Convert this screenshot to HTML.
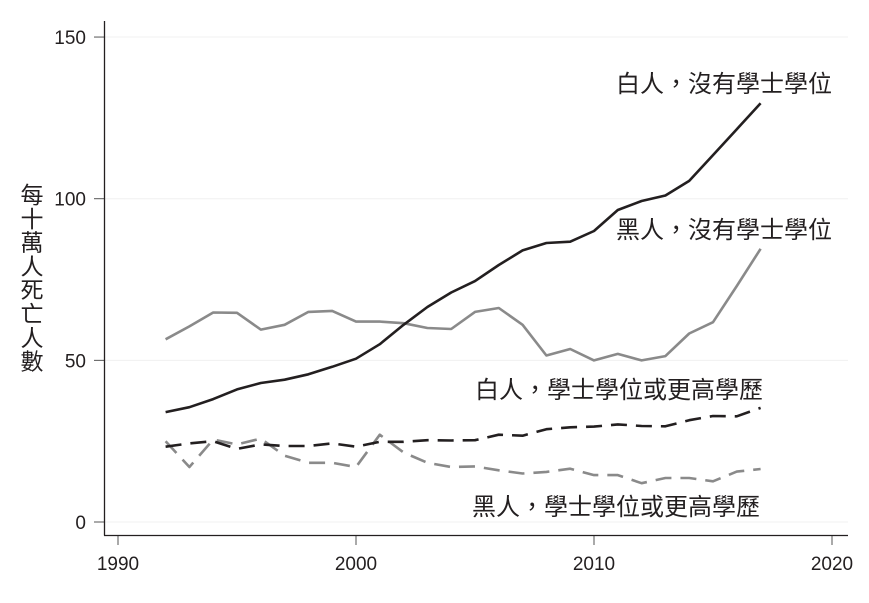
<!DOCTYPE html>
<html><head><meta charset="utf-8"><style>
html,body{margin:0;padding:0;background:#fff;}
svg text{font-family:"Liberation Sans","Noto Sans CJK TC",sans-serif;fill:#231f20;}
</style></head><body>
<svg id="chart" width="869" height="598" viewBox="0 0 869 598" xmlns="http://www.w3.org/2000/svg">
<g id="grid"></g><g id="axes"></g><g id="series"></g><g id="labels"></g>
</svg>
<script>
const years=[1992,1993,1994,1995,1996,1997,1998,1999,2000,2001,2002,2003,2004,2005,2006,2007,2008,2009,2010,2011,2012,2013,2014,2015,2016,2017];
const whiteNoDegree=[34,35.5,38,41,43,44,45.7,48,50.5,55,61,66.5,71,74.5,79.5,84,86.3,86.7,90,96.5,99.3,101,105.5,113.5,121.5,129.5];
const blackNoDegree=[56.5,60.5,64.8,64.7,59.5,61,65,65.3,62,62,61.5,60,59.7,65,66.2,61,51.5,53.5,50,52,50,51.3,58.3,61.8,73,84.5];
const whiteDegree=[23.3,24.3,25,22.6,24,23.5,23.5,24.3,23.3,24.8,24.8,25.3,25.2,25.3,27,26.7,28.7,29.3,29.5,30.2,29.7,29.6,31.5,32.8,32.7,35.3];
const blackDegree=[25,17,25.5,24,25.8,20.5,18.3,18.3,17,27,21.5,18.3,17,17.2,16,15,15.5,16.5,14.5,14.5,12,13.6,13.6,12.6,15.6,16.4];
const yTicks=[0,50,100,150];
const xTicks=[1990,2000,2010,2020];
const NS="http://www.w3.org/2000/svg";
const xs=v=>118+(v-1990)*23.8;
const ys=v=>522-v*3.233;
function mk(tag,attrs,parent){const e=document.createElementNS(NS,tag);for(const k in attrs)e.setAttribute(k,attrs[k]);document.getElementById(parent).appendChild(e);return e;}
yTicks.forEach(t=>{
  const g=mk('line',{x1:105,x2:848,y1:ys(t),y2:ys(t),stroke:'#f0f0f0','stroke-width':1},'grid');
  
  
  const tk=mk('line',{x1:94,x2:104,y1:ys(t),y2:ys(t),stroke:'#555','stroke-width':1},'axes');
  
  
  const tx=mk('text',{x:86,y:ys(t)+7,'text-anchor':'end','font-size':19},'axes');
  tx.textContent=t;
  
  
});
xTicks.forEach(t=>{
  const tk=mk('line',{x1:xs(t),x2:xs(t),y1:535,y2:545,stroke:'#555','stroke-width':1},'axes');
  
  
  const tx=mk('text',{x:xs(t),y:570,'text-anchor':'middle','font-size':19},'axes');
  tx.textContent=t;
  
  
});
const ya=mk('line',{x1:104.5,x2:104.5,y1:21,y2:535.5,stroke:'#231f20','stroke-width':1.3},'axes');


const xa=mk('line',{x1:104,x2:848,y1:535.5,y2:535.5,stroke:'#231f20','stroke-width':1.3},'axes');


function series(vals,color,dash,name){
  const d=vals.map((v,i)=>(i?'L':'M')+xs(years[i]).toFixed(1)+','+ys(v).toFixed(1)).join(' ');
  const p=mk('path',{d:d,fill:'none',stroke:color,'stroke-width':2.6,'stroke-linejoin':'round'},'series');
  if(dash)p.setAttribute('stroke-dasharray',dash);
  
  
}
series(blackDegree,'#8a8a8a','16,9','line-black-degree');
series(whiteDegree,'#231f20','16,9','line-white-degree');
series(blackNoDegree,'#8a8a8a',null,'line-black-no-degree');
series(whiteNoDegree,'#231f20',null,'line-white-no-degree');
const labs=[['白人，沒有學士學位',832,92,'label-white-no-degree'],['黑人，沒有學士學位',832,238,'label-black-no-degree'],['白人，學士學位或更高學歷',763,398,'label-white-degree'],['黑人，學士學位或更高學歷',760,515,'label-black-degree']];
labs.forEach(l=>{
  const t=mk('text',{x:l[1],y:l[2],'text-anchor':'end','font-size':24},'labels');
  t.textContent=l[0];
  
  
});
const title='每十萬人死亡人數';
const tg=mk('text',{x:32,y:0,'text-anchor':'middle','font-size':23},'labels');


[...title].forEach((c,i)=>{const s=document.createElementNS(NS,'tspan');s.setAttribute('x',32);s.setAttribute('y',203+i*23.8);s.textContent=c;tg.appendChild(s);});
</script>
</body></html>
